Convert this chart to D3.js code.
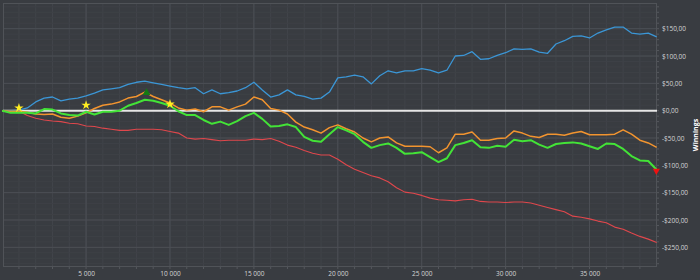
<!DOCTYPE html>
<html>
<head>
<meta charset="utf-8">
<script src="https://cdn.jsdelivr.net/npm/d3@7"></script>
<style>
  body { margin: 0; background: #393c41; }
  svg { display: block; }
  text { font-family: "Open Sans", "Noto Sans", sans-serif; }
</style>
</head>
<body>
<svg id="chart" width="700" height="280"></svg>
<script>
// hands played (x) - one sample every 500 hands
var hands = [0,500,1000,1500,2000,2500,3000,3500,4000,4500,
  5000,5500,6000,6500,7000,7500,8000,8500,9000,9500,
  10000,10500,11000,11500,12000,12500,13000,13500,14000,14500,
  15000,15500,16000,16500,17000,17500,18000,18500,19000,19500,
  20000,20500,21000,21500,22000,22500,23000,23500,24000,24500,
  25000,25500,26000,26500,27000,27500,28000,28500,29000,29500,
  30000,30500,31000,31500,32000,32500,33000,33500,34000,34500,
  35000,35500,36000,36500,37000,37500,38000,38500,39000];

// winnings in $
var blueVals = [0,0,1,5,16,23,25,18,21,23,
  27,32,38,40,42,48,52,54,51,48,
  45,42,40,42,31,38,31,33,36,42,
  52,38,25,29,38,29,26,21,23,34,
  60,62,65,62,49,64,73,69,73,73,
  77,74,69,74,100,101,108,94,95,101,
  106,113,112,113,107,105,122,128,136,137,
  133,142,148,153,153,142,140,142,135];

var orangeVals = [0,-1,-1,-3,-6,-7,-6,-12,-14,-10,
  -4,4,10,12,16,23,26,34,26,20,
  14,5,1,3,-2,7,7,1,7,12,
  25,20,4,1,-6,-21,-30,-35,-41,-31,
  -26,-33,-39,-50,-57,-50,-48,-59,-65,-65,
  -65,-66,-77,-68,-43,-43,-39,-54,-54,-51,
  -50,-37,-41,-47,-49,-43,-43,-45,-41,-38,
  -44,-44,-44,-43,-35,-43,-54,-59,-67];

var greenVals = [0,-4,-4,-4,-5,3,2,-5,-8,-9,
  -2,-7,-2,-2,0,9,14,20,18,14,
  9,-1,-8,-8,-17,-24,-20,-26,-19,-10,
  -4,-15,-29,-28,-25,-30,-48,-55,-57,-43,
  -30,-36,-43,-57,-68,-63,-60,-68,-79,-78,
  -76,-85,-94,-87,-63,-59,-54,-67,-68,-64,
  -66,-53,-56,-54,-62,-68,-61,-59,-58,-60,
  -65,-70,-60,-61,-70,-83,-91,-92,-108];

var redVals = [0,-1,-1,-9,-14,-17,-19,-20,-23,-24,
  -28,-29,-32,-34,-36,-36,-34,-34,-34,-35,
  -38,-41,-50,-52,-51,-53,-55,-54,-54,-54,
  -52,-53,-51,-56,-63,-67,-73,-78,-81,-81,
  -89,-99,-107,-113,-119,-123,-130,-141,-149,-151,
  -155,-160,-163,-164,-165,-163,-162,-166,-167,-167,
  -168,-167,-167,-169,-173,-177,-181,-185,-193,-195,
  -198,-202,-205,-213,-217,-224,-230,-235,-241];

var xTicks = [5000,10000,15000,20000,25000,30000,35000];
var yTicks = [150,100,50,0,-50,-100,-150,-200,-250];

// markers
var starHands = [1000,5000,10000];
var starVals = [5,10,12];
var peakHand = [8600], peakVal = [33];
var endHand = [38980], endVal = [-110];

var svg = d3.select('#chart');
var plotL = 3, plotR = 657, plotT = 3, plotB = 267;

var x = d3.scaleLinear().domain([50, 39020]).range([plotL, plotR]);
var y = d3.scaleLinear().domain([-286, 197]).range([plotB, plotT]);

var loc = d3.formatLocale({decimal: ",", thousands: " ", grouping: [3], currency: ["$", ""], minus: "-"});
var fmtX = loc.format(",");
var fmtY = loc.format("$,.2f");

// minor grid
var g = svg.append('g');
g.selectAll('.vminor')
  .data(d3.range(1000, 39000, 1000))
  .enter().append('line')
  .attr('x1', function (d) { return x(d); })
  .attr('x2', function (d) { return x(d); })
  .attr('y1', plotT).attr('y2', plotB)
  .attr('stroke', '#41444a').attr('stroke-width', 1);
g.selectAll('.hminor')
  .data(d3.range(-280, 197, 10))
  .enter().append('line')
  .attr('y1', function (d) { return y(d); })
  .attr('y2', function (d) { return y(d); })
  .attr('x1', plotL).attr('x2', plotR)
  .attr('stroke', '#3e4146').attr('stroke-width', 1);

// major grid
g.selectAll('.vmajor')
  .data(xTicks)
  .enter().append('line')
  .attr('x1', function (d) { return x(d); })
  .attr('x2', function (d) { return x(d); })
  .attr('y1', plotT).attr('y2', plotB)
  .attr('stroke', '#4c4f55').attr('stroke-width', 1);
g.selectAll('.hmajor')
  .data(yTicks)
  .enter().append('line')
  .attr('y1', function (d) { return y(d); })
  .attr('y2', function (d) { return y(d); })
  .attr('x1', plotL).attr('x2', plotR)
  .attr('stroke', '#4c4f55').attr('stroke-width', 1);

svg.append('rect')
  .attr('x', plotL + 0.5).attr('y', plotT + 0.5)
  .attr('width', plotR - plotL - 1).attr('height', plotB - plotT - 1)
  .attr('fill', 'none').attr('stroke', '#505358');

// axes
var xAxis = svg.append('g')
  .attr('transform', 'translate(0,' + plotB + ')')
  .call(d3.axisBottom(x).tickValues(xTicks).tickFormat(fmtX).tickSize(0).tickPadding(4));
var yAxis = svg.append('g')
  .attr('transform', 'translate(' + plotR + ',0)')
  .call(d3.axisRight(y).tickValues(yTicks).tickFormat(fmtY).tickSize(0).tickPadding(5));
[xAxis, yAxis].forEach(function (a) {
  a.select('.domain').remove();
  a.selectAll('text').attr('fill', '#d4d4d4').style('font-size', '6.5px');
});

// small ticks
svg.selectAll('.xt')
  .data(d3.range(1000, 39000, 1000))
  .enter().append('line')
  .attr('x1', function (d) { return x(d); })
  .attr('x2', function (d) { return x(d); })
  .attr('y1', plotB).attr('y2', plotB + 2)
  .attr('stroke', '#55585d');
svg.selectAll('.yt')
  .data(d3.range(-280, 197, 10))
  .enter().append('line')
  .attr('y1', function (d) { return y(d); })
  .attr('y2', function (d) { return y(d); })
  .attr('x1', plotR).attr('x2', plotR + 2)
  .attr('stroke', '#55585d');

svg.append('text')
  .attr('transform', 'translate(696,' + ((plotT + plotB) / 2) + ') rotate(-90)')
  .attr('text-anchor', 'middle')
  .attr('dy', '0.35em')
  .attr('fill', '#ffffff')
  .style('font-size', '7px')
  .style('font-weight', 'bold')
  .text('Winnings');

// zero line
svg.append('line')
  .attr('x1', plotL).attr('x2', plotR)
  .attr('y1', y(0)).attr('y2', y(0))
  .attr('stroke', '#e6e6e6').attr('stroke-width', 2);

// series
var series = [
  {vals: redVals, color: '#e0474c', w: 1.1},
  {vals: blueVals, color: '#3b96d6', w: 1.3},
  {vals: orangeVals, color: '#f2942f', w: 1.5},
  {vals: greenVals, color: '#43e337', w: 2}
];

var line = d3.line()
  .x(function (d) { return x(d[0]); })
  .y(function (d) { return y(d[1]); });

svg.selectAll('.series')
  .data(series)
  .enter().append('path')
  .attr('fill', 'none')
  .attr('stroke', function (s) { return s.color; })
  .attr('stroke-width', function (s) { return s.w; })
  .attr('stroke-linejoin', 'round')
  .attr('d', function (s) { return line(d3.zip(hands, s.vals)); });

// markers
svg.selectAll('.star')
  .data(d3.zip(starHands, starVals))
  .enter().append('path')
  .attr('d', d3.symbol().type(d3.symbolStar).size(28))
  .attr('transform', function (d) { return 'translate(' + x(d[0]) + ',' + y(d[1]) + ')'; })
  .attr('fill', '#ffee22');
svg.selectAll('.peak')
  .data(d3.zip(peakHand, peakVal))
  .enter().append('path')
  .attr('d', d3.symbol().type(d3.symbolTriangle).size(26))
  .attr('transform', function (d) { return 'translate(' + x(d[0]) + ',' + y(d[1]) + ')'; })
  .attr('fill', '#137a13');
svg.selectAll('.end')
  .data(d3.zip(endHand, endVal))
  .enter().append('path')
  .attr('d', d3.symbol().type(d3.symbolTriangle).size(22))
  .attr('transform', function (d) { return 'translate(' + x(d[0]) + ',' + y(d[1]) + ') rotate(180)'; })
  .attr('fill', '#ee1111');
</script>
</body>
</html>
